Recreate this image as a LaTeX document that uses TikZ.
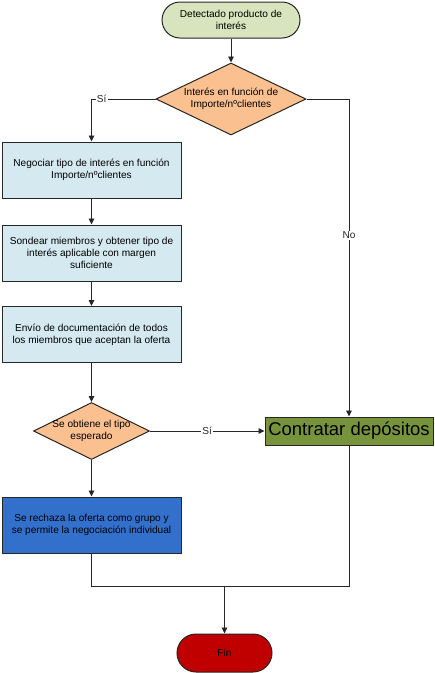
\documentclass[tikz,border=0pt]{standalone}
\usepackage{fontspec}
\setmainfont{Liberation Sans}
\usetikzlibrary{arrows.meta, shapes.geometric, positioning}
\definecolor{fcGreen}{HTML}{D7E4BD}
\definecolor{fcOrange}{HTML}{FAC090}
\definecolor{fcLight}{HTML}{D5E9F0}
\definecolor{fcOlive}{HTML}{77933C}
\definecolor{fcBlue}{HTML}{3370CC}
\definecolor{fcRed}{HTML}{C00000}
\definecolor{fcGrey}{HTML}{262626}
\tikzset{
  % thin borders and small filled tips, as in the original chart
  every picture/.append style = {line width=0.9pt, >={Triangle[length=6pt, width=5.5pt]}},
  txt/.style       = {font=\fontsize{10.1}{12.3}\selectfont, align=center},
  terminal/.style  = {txt, draw=fcGrey, line width=1pt, rounded corners=#1, inner sep=0pt},
  decision/.style  = {txt, diamond, draw=fcGrey, line width=1pt, fill=fcOrange, aspect=2, inner sep=-3pt},
  process/.style   = {txt, draw=fcGrey, line width=1pt, inner sep=0pt,
                      minimum width=179pt, minimum height=56pt},
  conn/.style      = {->, fcGrey},
  line/.style      = {fcGrey},
  lbl/.style       = {txt, fill=white, inner sep=1pt},
}

\begin{document}
\begin{tikzpicture}[x=1pt, y=-1pt]
  \useasboundingbox (0,0) rectangle (435,673);
  % start and decision on the rate
  \node[terminal=18pt, fill=fcGreen, minimum width=138pt, minimum height=36pt]
    (detect) at (231,20) {Detectado producto de\\interés};
  \node[decision, minimum width=150pt, minimum height=72pt]
    (rate) at (231,99) {Interés en función de\\Importe/nºclientes};
  % left column
  \node[process, fill=fcLight] (negociar) at (91.5,170)
    {Negociar tipo de interés en función\\Importe/nºclientes};
  \node[process, fill=fcLight] (sondear) at (91.5,253)
    {Sondear miembros y obtener tipo de\\interés aplicable con margen\\suficiente};
  \node[process, fill=fcLight] (envio) at (91.5,334.5)
    {Envío de documentación de todos\\los miembros que aceptan la oferta};
  \node[decision, minimum width=116pt, minimum height=57pt]
    (tipo) at (91.5,431) {Se obtiene el tipo\\esperado};
  \node[process, fill=fcBlue] (rechazo) at (91.5,525)
    {Se rechaza la oferta como grupo y\\se permite la negociación individual};
  % right side and end
  \node[draw=fcGrey, line width=1pt, fill=fcOlive, inner sep=0pt,
        minimum width=168pt, minimum height=28pt, font=\fontsize{18.5}{20}\selectfont]
    (contratar) at (349,431) {Contratar depósitos};
  \node[terminal=19pt, fill=fcRed, minimum width=95pt, minimum height=38pt]
    (fin) at (224.5,653) {Fin};
  \coordinate (join) at (224.5,586);
  % connectors
  \draw[conn] (detect) -- (rate);
  \draw[conn] (rate.west) -| node[lbl, pos=0.42] {Sí} (negociar.north);
  \draw[conn] (rate.east) -| node[lbl, pos=0.715] {No} (contratar.north);
  \draw[conn] (negociar) -- (sondear);
  \draw[conn] (sondear) -- (envio);
  \draw[conn] (envio) -- (tipo);
  \draw[conn] (tipo) -- node[lbl] {Sí} (contratar);
  \draw[conn] (tipo) -- (rechazo);
  \draw[line] (rechazo.south) -- (rechazo.south |- join) -- (contratar.south |- join)
    -- (contratar.south);
  \draw[conn] (join) -- (fin);
\end{tikzpicture}
\end{document}
